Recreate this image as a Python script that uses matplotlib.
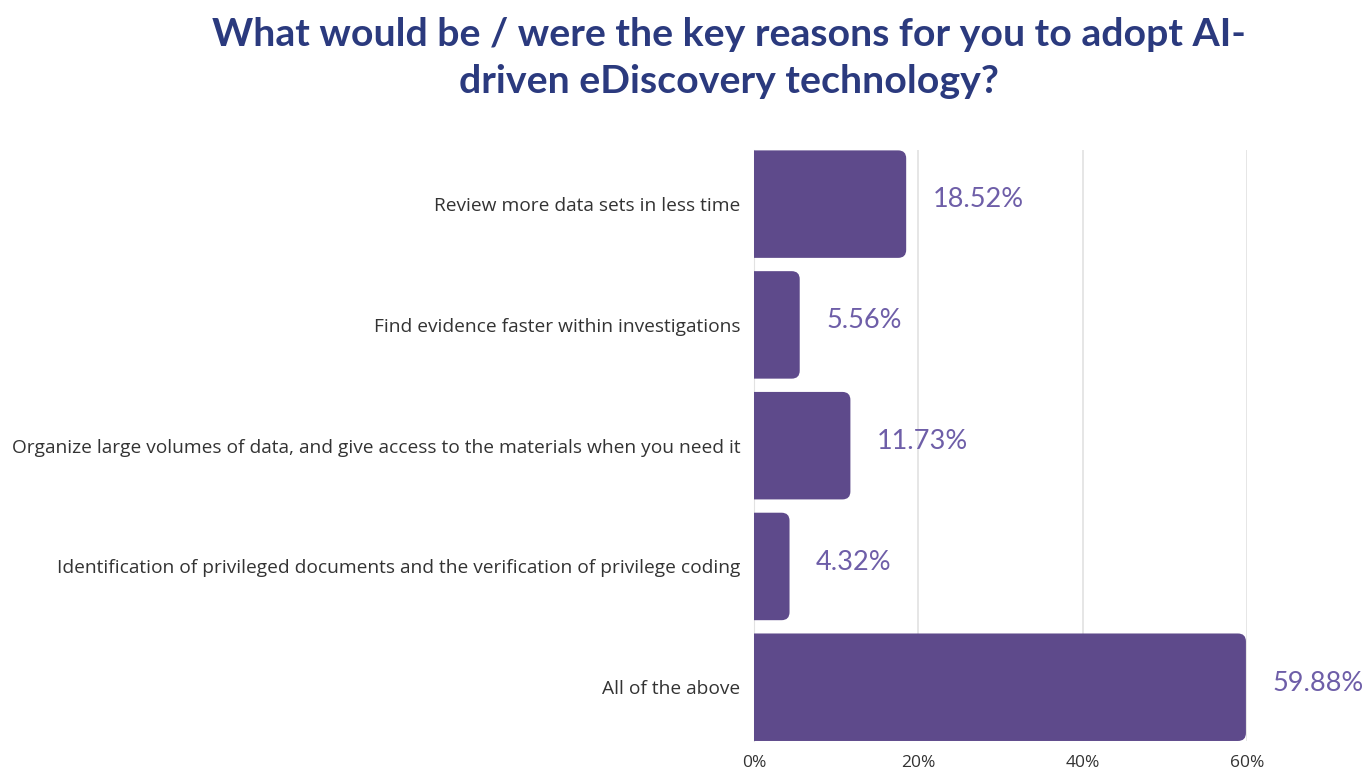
import matplotlib
matplotlib.use("Agg")
import matplotlib.pyplot as plt
from matplotlib.patches import FancyBboxPatch
from matplotlib.ticker import FuncFormatter

categories = [
    "Review more data sets in less time",
    "Find evidence faster within investigations",
    "Organize large volumes of data, and give access to the materials when you need it",
    "Identification of privileged documents and the verification of privilege coding",
    "All of the above",
]
shares = [18.52, 5.56, 11.73, 4.32, 59.88]
xticks = [0, 20, 40, 60]

BAR_COLOR = "#5e4a8b"
LABEL_COLOR = "#6e5ea8"
TITLE_COLOR = "#2b3a7e"
TEXT_COLOR = "#333333"

fig = plt.figure(figsize=(13.71, 7.70), dpi=100)
ax = fig.add_axes([0.550, 0.0377, 0.3595, 0.767])

bar_h = 0.89
ax.set_xlim(0, 60)
ax.set_ylim(len(categories) - 1 + bar_h / 2, -bar_h / 2)

# px per data unit, used to keep the corner radius round
px_x = ax.get_position().width * fig.bbox.width / 60
px_y = ax.get_position().height * fig.bbox.height / (len(categories) - 1 + bar_h)
radius = 8 / px_x

for i, v in enumerate(shares):
    # start left of 0 so only the right corners show rounded
    box = FancyBboxPatch((-2 * radius, i - bar_h / 2), v + 2 * radius, bar_h,
                         boxstyle=f"round,pad=0,rounding_size={radius}",
                         mutation_aspect=px_x / px_y,
                         facecolor=BAR_COLOR, edgecolor="none", zorder=2)
    ax.add_patch(box)
    ax.annotate(f"{v:.2f}%", (v, i), xytext=(19, 3), textcoords="offset points",
                va="center", ha="left", fontsize=19.5, color=LABEL_COLOR,
                family="Lato", fontweight="normal", annotation_clip=False, zorder=3)

ax.set_yticks(range(len(categories)))
ax.set_yticklabels(categories, fontsize=13.8, color=TEXT_COLOR, family="Open Sans")
ax.set_xticks(xticks)
ax.xaxis.set_major_formatter(FuncFormatter(lambda x, _: f"{x:.0f}%"))
for lbl in ax.get_xticklabels():
    lbl.set_family("Open Sans")
    lbl.set_fontsize(12.5)
    lbl.set_color(TEXT_COLOR)
ax.tick_params(axis="both", length=0)
ax.tick_params(axis="y", pad=10)
ax.tick_params(axis="x", pad=10)

ax.xaxis.grid(True, color="#e2e2e2", linewidth=1.2)
ax.set_axisbelow(True)
for side in ["top", "right", "bottom"]:
    ax.spines[side].set_visible(False)
ax.spines["left"].set_color("#e2e2e2")
ax.spines["left"].set_zorder(1)

fig.text(0.532, 0.978, "What would be / were the key reasons for you to adopt AI-\ndriven eDiscovery technology?",
         ha="center", va="top", fontsize=28.3, fontweight="bold", color=TITLE_COLOR,
         family="Lato", linespacing=1.42)

fig.savefig("out.png", dpi=100)
